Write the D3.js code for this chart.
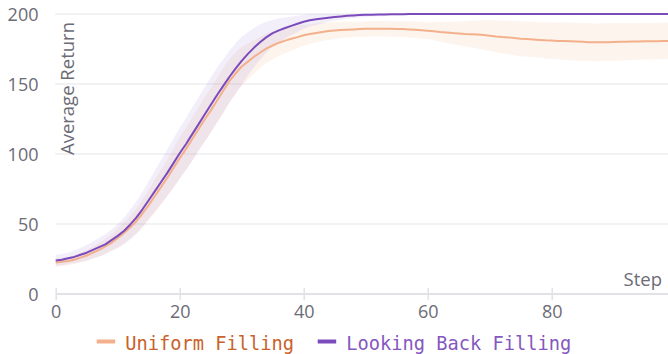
<!DOCTYPE html>
<html>
<head>
<meta charset="utf-8">
<script src="https://cdn.jsdelivr.net/npm/d3@7"></script>
<style>
  html, body { margin: 0; padding: 0; background: #fff; }
  svg { display: block; }
</style>
</head>
<body>
<svg id="chart" width="668" height="354"></svg>
<script>
// Average return per training step, mean and spread over runs
const steps = d3.range(0, 100);

const uniformMean = [
  22.5, 23, 23.5, 24.5, 26, 27.5, 29.5, 31.5, 34, 36.5,
  40, 43.5, 47.5, 52, 57.5, 63.5, 70, 76.5, 83, 90,
  97, 103.5, 110.5, 117.5, 124.5, 131, 138, 145, 152, 157.5,
  162.5, 166, 169.5, 172.5, 175.5, 177.5, 179.5, 181, 182.3, 183.5,
  184.8, 185.7, 186.5, 187.2, 187.8, 188.2, 188.5, 188.8, 189, 189.2,
  189.4, 189.5, 189.5, 189.5, 189.4, 189.3, 189.2, 189, 188.7, 188.4,
  188.1, 187.7, 187.2, 186.8, 186.4, 186.1, 185.8, 185.6, 185.3, 185,
  184.5, 184, 183.6, 183.3, 182.8, 182.4, 182.1, 181.8, 181.5, 181.2,
  181, 180.8, 180.7, 180.5, 180.3, 180.1, 179.9, 179.8, 179.8, 179.9,
  180, 180.1, 180.2, 180.3, 180.4, 180.5, 180.5, 180.6, 180.7, 180.8
];
const uniformSpread = [
  3, 3, 3, 3, 3.5, 4, 4.5, 5, 5.5, 6,
  7, 7.5, 8, 9, 10, 11, 12, 12.5, 13, 14,
  15, 15, 15.5, 15.5, 16, 16, 16, 16, 15.5, 15,
  14, 13, 12, 11, 10.5, 10, 9.5, 9, 8.5, 8,
  7.5, 7, 6.8, 6.5, 6.2, 6, 5.8, 5.6, 5.5, 5.5,
  5.5, 5.5, 5.5, 5.5, 5.5, 5.6, 5.7, 5.8, 5.9, 6,
  6, 6.5, 7, 7.5, 8, 8.5, 9, 9.5, 10, 10.5,
  11, 11.3, 11.6, 11.9, 12.2, 12.5, 12.6, 12.7, 12.8, 12.9,
  13, 13.2, 13.4, 13.5, 13.5, 13.5, 13.5, 13.5, 13.5, 13.5,
  13.5, 13.3, 13.2, 13.1, 13, 13, 13, 13, 13, 13
];

const lookbackMean = [
  24, 24.5, 25.5, 26.5, 28, 29.5, 31.5, 33.5, 35.5, 38.5,
  41.5, 45, 49.5, 54.5, 60.5, 67, 73.5, 80, 86.5, 93.5,
  100.5, 107, 114, 121, 128, 135, 142, 148.5, 155, 161,
  166.5, 171.5, 176, 180, 183.5, 186.3, 188.3, 190, 191.5, 193,
  194.5, 195.5, 196.2, 196.8, 197.4, 197.9, 198.3, 198.7, 199, 199.2,
  199.4, 199.5, 199.6, 199.7, 199.8, 199.8, 199.9, 200, 200, 200,
  200, 200, 200, 200, 200, 200, 200, 200, 200, 200,
  200, 200, 200, 200, 200, 200, 200, 200, 200, 200,
  200, 200, 200, 200, 200, 200, 200, 200, 200, 200,
  200, 200, 200, 200, 200, 200, 200, 200, 200, 200
];
const lookbackSpread = [
  4, 4, 4, 4.5, 5, 5.5, 6, 6.5, 7, 7.5,
  8.5, 9.5, 10.5, 11.5, 12.5, 13.5, 14.5, 15.5, 16.5, 17.5,
  18, 18.5, 19, 19, 19.5, 19.5, 19.5, 19, 18.5, 18,
  17, 15.5, 14, 12.5, 11, 9.5, 8.5, 7.5, 6.5, 5.8,
  5, 4.5, 4, 3.5, 3, 2.7, 2.4, 2.1, 1.9, 1.7,
  1.5, 1.3, 1.2, 1.1, 1, 0.9, 0.8, 0.7, 0.6, 0.6,
  0.5, 0.5, 0.5, 0.5, 0.5, 0.5, 0.5, 0.5, 0.5, 0.5,
  0.5, 0.5, 0.5, 0.5, 0.5, 0.5, 0.5, 0.5, 0.5, 0.5,
  0.5, 0.5, 0.5, 0.5, 0.5, 0.5, 0.5, 0.5, 0.5, 0.5,
  0.5, 0.5, 0.5, 0.5, 0.5, 0.5, 0.5, 0.5, 0.5, 0.5
];

const seriesNames = ["Uniform Filling", "Looking Back Filling"];
const xTicks = [0, 20, 40, 60, 80];
const yTicks = [0, 50, 100, 150, 200];
const xTitle = "Step";
const yTitle = "Average Return";

const series = [
  { name: seriesNames[0], mean: uniformMean, spread: uniformSpread,
    line: "#f3b08a", band: "rgba(244,176,138,0.14)", text: "#c9622c" },
  { name: seriesNames[1], mean: lookbackMean, spread: lookbackSpread,
    line: "#7b4bbb", band: "rgba(150,115,210,0.12)", text: "#8557c0" }
];

const svg = d3.select("#chart");
const W = 668;
const x = d3.scaleLinear().domain([0, 99]).range([55.7, 55.7 + 99 * 6.2]);
const y = d3.scaleLinear().domain([0, 200]).range([294, 14]);

const tickFont = "'Open Sans', 'Noto Sans', sans-serif";
const tickColor = "#6c6b76";

// horizontal grid
svg.append("g")
  .selectAll("line")
  .data(yTicks.filter(d => d > 0))
  .join("line")
  .attr("x1", x(0) - 0.5).attr("x2", W)
  .attr("y1", d => y(d)).attr("y2", d => y(d))
  .attr("stroke", "#eeeef0").attr("stroke-width", 1.5);

// y tick labels
const yAxis = d3.axisLeft(y).tickValues(yTicks).tickSize(0).tickPadding(0);
const gy = svg.append("g").attr("transform", "translate(38.5,0)").call(yAxis);
gy.select(".domain").remove();
gy.selectAll("text")
  .attr("fill", tickColor)
  .style("font-family", tickFont)
  .style("font-size", "18px")
  .attr("dy", "0.36em");

// x axis
const xAxis = d3.axisBottom(x).tickValues(xTicks).tickSize(12).tickPadding(8);
const gx = svg.append("g").attr("transform", `translate(0,${y(0) - 6})`).call(xAxis);
gx.select(".domain").remove();
gx.selectAll(".tick line").attr("stroke", "#e2e2e6").attr("stroke-width", 1.5);
gx.selectAll("text")
  .attr("fill", tickColor)
  .style("font-family", tickFont)
  .style("font-size", "18px")
  .attr("y", 17)
  .attr("dy", "0.71em");
svg.append("line")
  .attr("x1", x(0)).attr("x2", W)
  .attr("y1", y(0)).attr("y2", y(0))
  .attr("stroke", "#e2e2e6").attr("stroke-width", 2);

// bands and lines
const band = d3.area()
  .x((d, i) => x(steps[i]))
  .y0(d => y(d[0]))
  .y1(d => y(d[1]))
  .curve(d3.curveMonotoneX);
const line = d3.line()
  .x((d, i) => x(steps[i]))
  .y(d => y(d));

series.forEach(s => {
  const bounds = s.mean.map((m, i) => [m - s.spread[i], Math.min(200, m + s.spread[i])]);
  svg.append("path").attr("d", band(bounds)).attr("fill", s.band);
});
series.forEach(s => {
  svg.append("path").attr("d", line(s.mean))
    .attr("fill", "none").attr("stroke", s.line)
    .attr("stroke-width", 2).attr("stroke-linejoin", "round");
});

// axis titles
svg.append("text")
  .attr("transform", "translate(74,22) rotate(-90)")
  .attr("text-anchor", "end")
  .attr("fill", tickColor)
  .style("font-family", tickFont)
  .style("font-size", "18.5px")
  .text(yTitle);
svg.append("text")
  .attr("x", 662).attr("y", 286)
  .attr("text-anchor", "end")
  .attr("fill", tickColor)
  .style("font-family", tickFont)
  .style("font-size", "18.5px")
  .text(xTitle);

// legend
const legendX = [96.7, 317.7];
const legend = svg.append("g")
  .selectAll("g")
  .data(series)
  .join("g")
  .attr("transform", (d, i) => `translate(${legendX[i]},0)`);
legend.append("line")
  .attr("x1", 0).attr("x2", 18.5)
  .attr("y1", 341.5).attr("y2", 341.5)
  .attr("stroke", d => d.line).attr("stroke-width", 4);
legend.append("text")
  .attr("x", 28.5).attr("y", 350)
  .attr("fill", d => d.text)
  .style("font-family", "'DejaVu Sans Mono', monospace")
  .style("font-size", "18.7px")
  .text(d => d.name);
</script>
</body>
</html>
